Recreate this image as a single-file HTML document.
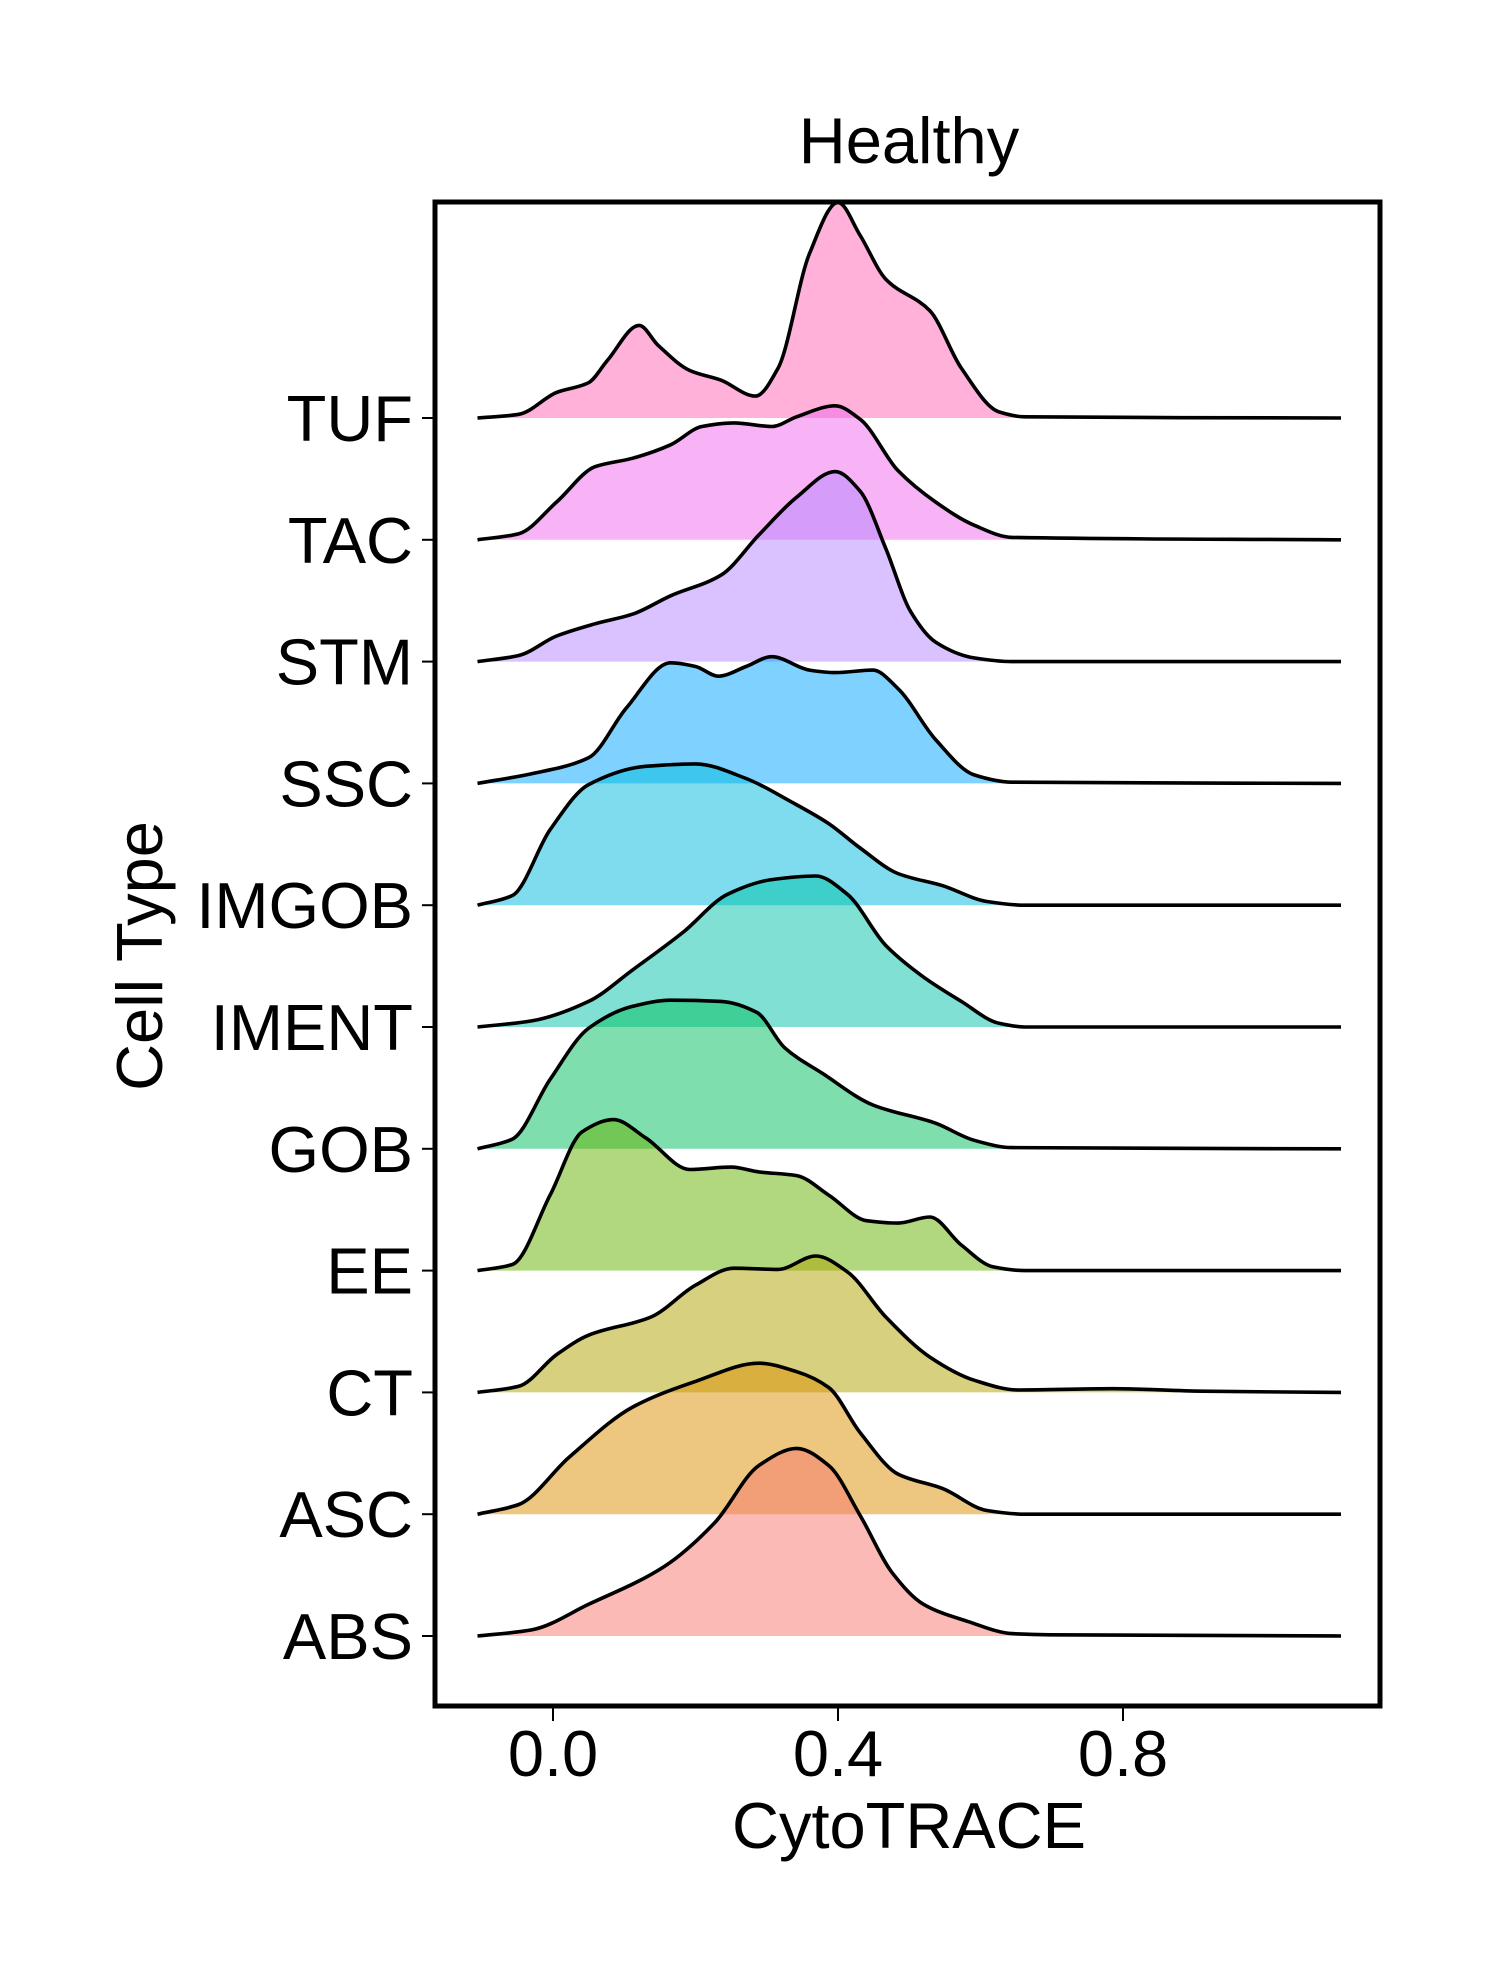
<!DOCTYPE html>
<html><head><meta charset="utf-8"><style>
html,body{margin:0;padding:0;background:#fff;}
svg text{font-family:"Liberation Sans",sans-serif;fill:#000;}
</style></head><body>
<svg id="chart" width="1500" height="1980" viewBox="0 0 1500 1980" xmlns="http://www.w3.org/2000/svg">
<text x="909" y="163" font-size="65" text-anchor="middle">Healthy</text>
<text transform="translate(162,956) rotate(-90)" font-size="65" text-anchor="middle">Cell Type</text>
<text x="909" y="1848" font-size="65" text-anchor="middle">CytoTRACE</text>
<g id="ridges"></g>
<rect x="435" y="202" width="945" height="1504" fill="none" stroke="#000" stroke-width="5"/>
<g id="axes"></g>
</svg>
<script>
const categories = ["ABS","ASC","CT","EE","GOB","IMENT","IMGOB","SSC","STM","TAC","TUF"];
const colors = ["#F8766D","#DB8E00","#AEA200","#64B200","#00BD5C","#00C1A7","#00BADE","#00A6FF","#B385FF","#EF67EB","#FF63B6"];
const xTicks = [0.0, 0.4, 0.8];
const xTickLabels = ["0.0","0.4","0.8"];
const xsABS = [-0.106,-0.03,0.05,0.156,0.227,0.289,0.342,0.387,0.431,0.476,0.52,0.582,0.644,0.697,1.106];
const ysABS = [0,0.05,0.26,0.57,0.93,1.4,1.54,1.4,0.99,0.52,0.26,0.12,0.02,0.01,0];
const xsASC = [-0.106,-0.048,0.023,0.112,0.2,0.289,0.342,0.387,0.431,0.484,0.547,0.609,0.662,1.106];
const ysASC = [0,0.08,0.47,0.88,1.09,1.24,1.17,1.04,0.67,0.33,0.21,0.03,0,0];
const xsCT = [-0.106,-0.048,0.005,0.05,0.138,0.2,0.254,0.316,0.369,0.413,0.467,0.529,0.591,0.653,0.786,0.91,1.106];
const ysCT = [0,0.05,0.31,0.47,0.62,0.88,1.02,1.01,1.12,0.99,0.62,0.29,0.1,0.02,0.03,0.01,0];
const xsEE = [-0.106,-0.057,-0.004,0.041,0.085,0.13,0.192,0.25,0.289,0.342,0.387,0.44,0.484,0.529,0.573,0.618,0.662,1.106];
const ysEE = [0,0.05,0.62,1.14,1.24,1.09,0.83,0.85,0.81,0.78,0.62,0.41,0.39,0.44,0.21,0.03,0,0];
const xsGOB = [-0.106,-0.057,-0.004,0.05,0.112,0.165,0.236,0.286,0.325,0.378,0.449,0.537,0.591,0.644,1.106];
const ysGOB = [0,0.08,0.57,0.99,1.17,1.22,1.21,1.12,0.83,0.62,0.36,0.21,0.07,0.01,0];
const xsIMENT = [-0.106,-0.03,0.05,0.112,0.183,0.245,0.307,0.369,0.413,0.467,0.52,0.573,0.626,0.662,1.106];
const ysIMENT = [0,0.05,0.21,0.47,0.78,1.09,1.21,1.24,1.09,0.67,0.41,0.21,0.03,0,0];
const xsIMGOB = [-0.106,-0.057,-0.004,0.05,0.13,0.2,0.271,0.334,0.387,0.431,0.484,0.547,0.609,0.662,1.106];
const ysIMGOB = [0,0.08,0.62,0.99,1.14,1.16,1.04,0.85,0.67,0.47,0.26,0.16,0.03,0,0];
const xsSSC = [-0.106,-0.03,0.05,0.103,0.165,0.2,0.232,0.271,0.307,0.36,0.396,0.449,0.484,0.537,0.591,0.644,1.106];
const ysSSC = [0,0.08,0.21,0.62,0.99,0.96,0.88,0.96,1.04,0.93,0.91,0.93,0.78,0.36,0.07,0.01,0];
const xsSTM = [-0.106,-0.048,0.005,0.059,0.112,0.165,0.236,0.289,0.342,0.396,0.431,0.467,0.502,0.537,0.591,0.644,1.106];
const ysSTM = [0,0.05,0.21,0.31,0.39,0.54,0.71,1.04,1.35,1.56,1.4,0.93,0.41,0.16,0.03,0,0];
const xsTAC = [-0.106,-0.048,0.005,0.059,0.112,0.165,0.209,0.254,0.307,0.342,0.396,0.431,0.484,0.537,0.591,0.644,1.106];
const ysTAC = [0,0.05,0.31,0.6,0.67,0.78,0.93,0.96,0.93,1.01,1.1,0.99,0.57,0.31,0.12,0.02,0];
const xsTUF = [-0.106,-0.048,0.005,0.05,0.076,0.121,0.147,0.192,0.236,0.284,0.316,0.36,0.4,0.431,0.467,0.529,0.573,0.626,0.662,1.106];
const ysTUF = [0,0.03,0.21,0.29,0.47,0.76,0.6,0.39,0.31,0.18,0.41,1.35,1.77,1.5,1.14,0.88,0.41,0.05,0.01,0];
const seriesX = [xsABS,xsASC,xsCT,xsEE,xsGOB,xsIMENT,xsIMGOB,xsSSC,xsSTM,xsTAC,xsTUF];
const seriesY = [ysABS,ysASC,ysCT,ysEE,ysGOB,ysIMENT,ysIMGOB,ysSSC,ysSTM,ysTAC,ysTUF];

const NS = "http://www.w3.org/2000/svg";
const x0 = 553, pxPerUnit = 712.5;
const baseBottom = 1636, rowH = 121.8;
function xScale(v){ return x0 + v * pxPerUnit; }
function baseline(i){ return baseBottom - i * rowH; }
function yScale(i, h){ return baseline(i) - h * rowH; }

// monotone cubic (Fritsch-Carlson) path, no overshoot
function smoothPath(pts){
  const n = pts.length;
  const dx = [], s = [];
  for (let i = 0; i < n-1; i++){ dx.push(pts[i+1][0]-pts[i][0]); s.push((pts[i+1][1]-pts[i][1])/dx[i]); }
  const m = new Array(n);
  m[0] = s[0]; m[n-1] = s[n-2];
  for (let i = 1; i < n-1; i++){
    if (s[i-1]*s[i] <= 0) m[i] = 0;
    else {
      const w1 = 2*dx[i]+dx[i-1], w2 = dx[i]+2*dx[i-1];
      m[i] = (w1+w2)/(w1/s[i-1]+w2/s[i]);
    }
  }
  let d = "M" + pts[0][0].toFixed(1) + "," + pts[0][1].toFixed(1);
  for (let i = 0; i < n-1; i++){
    const h = dx[i];
    const c1x = pts[i][0]+h/3, c1y = pts[i][1]+m[i]*h/3;
    const c2x = pts[i+1][0]-h/3, c2y = pts[i+1][1]-m[i+1]*h/3;
    d += " C" + c1x.toFixed(1)+","+c1y.toFixed(1)+" "+c2x.toFixed(1)+","+c2y.toFixed(1)+" "+pts[i+1][0].toFixed(1)+","+pts[i+1][1].toFixed(1);
  }
  return d;
}

const ridges = document.getElementById("ridges");
for (let i = categories.length - 1; i >= 0; i--){
  const xs = seriesX[i], ys = seriesY[i];
  const pts = xs.map((v, k) => [xScale(v), yScale(i, ys[k])]);
  const line = smoothPath(pts);
  const g = document.createElementNS(NS, "g");
  
  
  const area = document.createElementNS(NS, "path");
  
  
  const b = baseline(i);
  area.setAttribute("d", line + " L" + pts[pts.length-1][0].toFixed(1) + "," + b + " L" + pts[0][0].toFixed(1) + "," + b + " Z");
  area.setAttribute("fill", colors[i]);
  area.setAttribute("fill-opacity", "0.5");
  g.appendChild(area);
  const ln = document.createElementNS(NS, "path");
  
  
  ln.setAttribute("d", line);
  ln.setAttribute("fill", "none");
  ln.setAttribute("stroke", "#000");
  ln.setAttribute("stroke-width", "3.6");
  ln.setAttribute("stroke-linejoin", "round");
  g.appendChild(ln);
  ridges.appendChild(g);
}

const axes = document.getElementById("axes");
categories.forEach((c, i) => {
  const y = baseline(i);
  const t = document.createElementNS(NS, "line");
  
  
  t.setAttribute("x1", 422); t.setAttribute("x2", 435);
  t.setAttribute("y1", y); t.setAttribute("y2", y);
  t.setAttribute("stroke", "#000"); t.setAttribute("stroke-width", "2");
  axes.appendChild(t);
  const lab = document.createElementNS(NS, "text");
  
  
  lab.setAttribute("x", 413); lab.setAttribute("y", y + 23);
  lab.setAttribute("font-size", "65"); lab.setAttribute("text-anchor", "end");
  lab.textContent = c;
  axes.appendChild(lab);
});
xTicks.forEach((v, k) => {
  const x = xScale(v);
  const t = document.createElementNS(NS, "line");
  
  
  t.setAttribute("x1", x); t.setAttribute("x2", x);
  t.setAttribute("y1", 1706); t.setAttribute("y2", 1721);
  t.setAttribute("stroke", "#000"); t.setAttribute("stroke-width", "2");
  axes.appendChild(t);
  const lab = document.createElementNS(NS, "text");
  
  
  lab.setAttribute("x", x); lab.setAttribute("y", 1776);
  lab.setAttribute("font-size", "65"); lab.setAttribute("text-anchor", "middle");
  lab.textContent = xTickLabels[k];
  axes.appendChild(lab);
});
</script>
</body></html>
